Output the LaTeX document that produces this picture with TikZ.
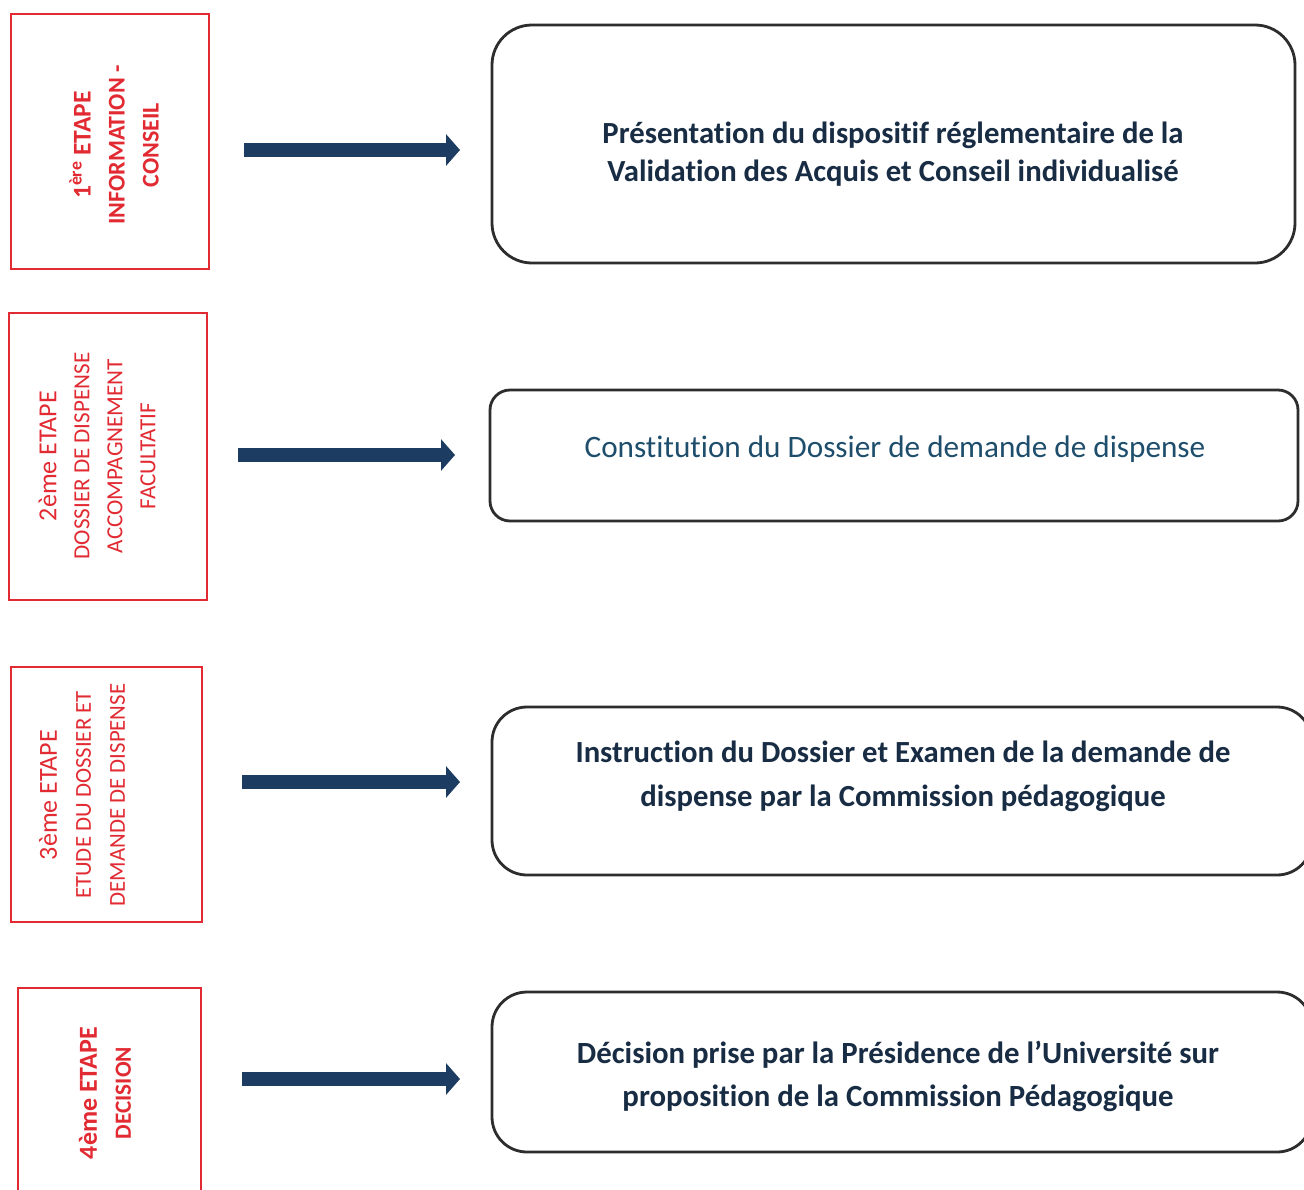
\documentclass[tikz,border=0pt]{standalone}
\usepackage{fontspec}
\setmainfont[Ligatures=NoCommon]{Carlito}
\usetikzlibrary{arrows.meta}
\definecolor{stepred}{RGB}{226,42,50}
\definecolor{arrownavy}{RGB}{28,60,98}
\definecolor{boxgray}{RGB}{45,45,45}
\definecolor{textnavy}{RGB}{24,44,68}
\definecolor{textteal}{RGB}{30,78,108}
\newcommand{\etapeline}[1]{{\fontsize{26}{34}\selectfont #1}}
\begin{document}
\begin{tikzpicture}[x=1pt,y=-1pt,
  leftbox/.style={draw=stepred, line width=2.6pt, inner sep=0pt},
  rightbox/.style={draw=boxgray, line width=2.8pt, inner sep=0pt},
  lefttext/.style={text=stepred, rotate=90, align=center, inner sep=0pt},
  righttext/.style={text=textnavy, align=center, inner sep=0pt, font=\fontsize{30.7}{38}\selectfont\bfseries},
  bigarrow/.style={draw=arrownavy, line width=14pt, -{Triangle[length=14pt 0 0, width=31pt 0 0]}}]
\path[use as bounding box, clip] (0,0) rectangle (1304,1189);
\fill[white] (0,0) rectangle (1304,1189);

% left step boxes
\node[leftbox, minimum width=198pt, minimum height=255pt] (l1) at (110,141.5) {};
\node[leftbox, minimum width=198pt, minimum height=287pt] (l2) at (108,456.5) {};
\node[leftbox, minimum width=191pt, minimum height=255pt] (l3) at (106.5,794.5) {};
\node[leftbox, minimum width=183pt, minimum height=212pt] (l4) at (109.5,1094) {};

\node[lefttext, font=\fontsize{24}{34}\selectfont\bfseries] (lt1) at (114,145)
  {{\fontsize{25.5}{34}\selectfont 1\textsuperscript{ère} ETAPE}\\INFORMATION -\\CONSEIL};
\node[lefttext, font=\fontsize{23.1}{33}\selectfont] (lt2) at (97,456)
  {\etapeline{2ème ETAPE}\\DOSSIER DE DISPENSE\\ACCOMPAGNEMENT\\FACULTATIF};
\node[lefttext, font=\fontsize{22.8}{34}\selectfont] (lt3) at (82,795)
  {\etapeline{3ème ETAPE}\\ETUDE DU DOSSIER ET\\DEMANDE DE DISPENSE};
\node[lefttext, font=\fontsize{23.2}{34}\selectfont\bfseries] (lt4) at (105,1093)
  {\etapeline{4ème ETAPE}\\DECISION};

% right description boxes
\node[rightbox, rounded corners=40pt, minimum width=803pt, minimum height=238pt] (r1) at (893.5,144) {};
\node[rightbox, rounded corners=20pt, minimum width=808pt, minimum height=131pt] (r2) at (894,455.5) {};
\node[rightbox, rounded corners=35pt, minimum width=820pt, minimum height=168pt] (r3) at (902,791) {};
\node[rightbox, rounded corners=35pt, minimum width=820pt, minimum height=160pt] (r4) at (902,1072) {};

\node[righttext] (t1) at (893,154)
  {Présentation du dispositif réglementaire de la\\Validation des Acquis et Conseil individualisé};
\node[righttext, text=textteal, font=\fontsize{31.2}{38}\selectfont] (t2) at (895,449)
  {Constitution du Dossier de demande de dispense};
\node[righttext, font=\fontsize{30.7}{44}\selectfont\bfseries] (t3) at (903,776)
  {Instruction du Dossier et Examen de la demande de\\dispense par la Commission pédagogique};
\node[righttext, font=\fontsize{30.8}{43}\selectfont\bfseries] (t4) at (898,1076)
  {Décision prise par la Présidence de l’Université sur\\proposition de la Commission Pédagogique};

% arrows
\coordinate (a1s) at (244,150);  \coordinate (a1e) at (460,150);
\coordinate (a2s) at (238,455);  \coordinate (a2e) at (455,455);
\coordinate (a3s) at (242,782);  \coordinate (a3e) at (460,782);
\coordinate (a4s) at (242,1079); \coordinate (a4e) at (460,1079);
\draw[bigarrow] (a1s) -- (a1e);
\draw[bigarrow] (a2s) -- (a2e);
\draw[bigarrow] (a3s) -- (a3e);
\draw[bigarrow] (a4s) -- (a4e);
\end{tikzpicture}
\end{document}
